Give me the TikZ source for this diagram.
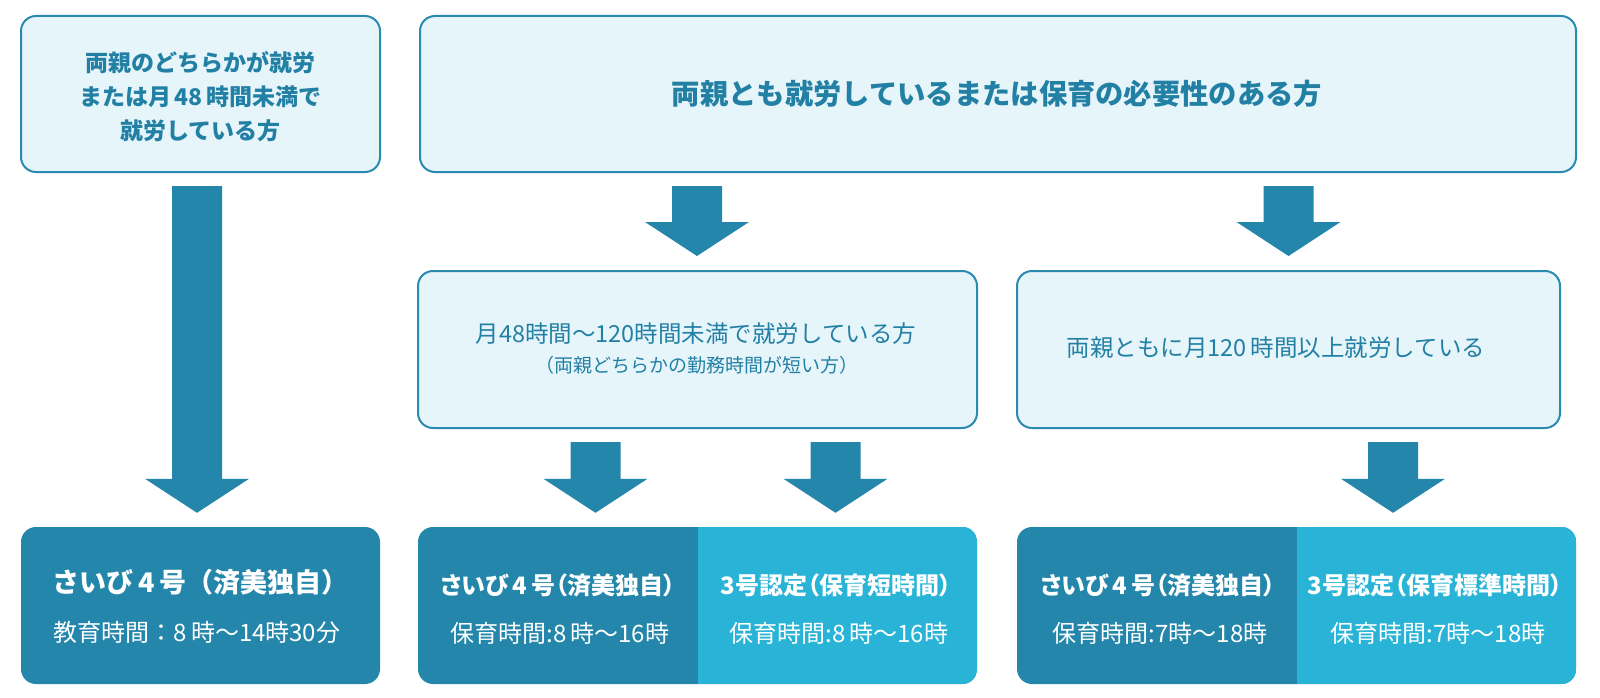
\documentclass[tikz,border=0pt]{standalone}
\usepackage{fontspec}
\setmainfont{Noto Sans CJK JP}
\newfontfamily\jpp[RawFeature=+palt]{Noto Sans CJK JP}
\usetikzlibrary{calc}
\definecolor{dk}{RGB}{35,134,170}
\definecolor{lt}{RGB}{41,180,215}
\definecolor{pale}{RGB}{230,245,250}
\definecolor{bd}{RGB}{43,138,176}
\definecolor{tx}{RGB}{35,128,165}
\newcommand\barrow[3]{%
  \fill[dk] let \p1=(#1.south), \p2=(#2.north) in
    (#3-25pt,\y1-13pt) -- (#3+25pt,\y1-13pt) -- (#3+25pt,\y2+48pt)
    -- (#3+52pt,\y2+48pt) -- (#3pt,\y2+14pt) -- (#3-52pt,\y2+48pt)
    -- (#3-25pt,\y2+48pt) -- cycle;}
\begin{document}
\begin{tikzpicture}[x=1pt,y=-1pt,
  box/.style={draw=bd, line width=2pt, fill=pale, rounded corners=15pt, inner sep=0pt},
  bot/.style={fill=dk, rounded corners=15pt, inner sep=0pt},
  ttl/.style={text=tx, align=center, font=\fontsize{23}{34}\selectfont\bfseries},
  mid/.style={text=tx, align=center, font=\fontsize{23.5}{28}\selectfont},
  sub/.style={text=tx, font=\fontsize{19}{22}\selectfont},
  wb/.style={text=white, font=\jpp\fontsize{24}{28}\selectfont\bfseries},
  wr/.style={text=white, font=\fontsize{24}{28}\selectfont},
]
\useasboundingbox (0,0) rectangle (1600,698);
% top boxes
\node[box, minimum width=359pt, minimum height=156pt] (A) at (200.5,94) {};
\node[ttl] (At) at (200.5,97) {両親のどちらかが就労\\または月\,48\,時間未満で\\就労している方};
\node[box, minimum width=1156pt, minimum height=156pt] (B) at (998,94) {};
\node[ttl, font=\fontsize{28.3}{34}\selectfont\bfseries] (Bt) at (997,94) {両親とも就労しているまたは保育の必要性のある方};
% middle boxes
\node[box, minimum width=559pt, minimum height=157pt] (C) at (697.5,349.5) {};
\node[mid] (Ct) at (696,334) {月48時間～120時間未満で就労している方};
\node[sub] (Cs) at (697,365) {（両親どちらかの勤務時間が短い方）};
\node[box, minimum width=543pt, minimum height=157pt] (D) at (1288.5,349.5) {};
\node[mid] (Dt) at (1276,348) {両親ともに月120\,時間以上就労している};
% bottom boxes
\node[bot, minimum width=359pt, minimum height=157pt] (E) at (200.5,605.5) {};
\node[bot, minimum width=559pt, minimum height=157pt] (F) at (697.5,605.5) {};
\begin{scope}
  \clip[rounded corners=15pt] (F.south west) rectangle (F.north east);
  \fill[lt] ($(F.north west)+(280.5,0)$) rectangle (F.south east);
\end{scope}
\node[bot, minimum width=559pt, minimum height=157pt] (G) at (1296.5,605.5) {};
\begin{scope}
  \clip[rounded corners=15pt] (G.south west) rectangle (G.north east);
  \fill[lt] ($(G.north west)+(280,0)$) rectangle (G.south east);
\end{scope}
\node[wb, font=\fontsize{27}{30}\selectfont\bfseries] (E1) at (200.5,582) {さいび\,4\,号（済美独自）};
\node[wr] (E2) at (197,632) {教育時間：8\,時～14時30分};
\node[wb] (F1) at (558,585) {さいび\,4\,号（済美独自）};
\node[wr] (F2) at (560,633) {保育時間:8\,時～16時};
\node[wb] (F3) at (836,585) {3号認定（保育短時間）};
\node[wr] (F4) at (839,633) {保育時間:8\,時～16時};
\node[wb] (G1) at (1158,585) {さいび\,4\,号（済美独自）};
\node[wr] (G2) at (1160,633) {保育時間:7時～18時};
\node[wb] (G3) at (1435,585) {3号認定（保育標準時間）};
\node[wr] (G4) at (1438,633) {保育時間:7時～18時};
% arrows
\barrow{A}{E}{197}
\barrow{B}{C}{697}
\barrow{B}{D}{1288.5}
\barrow{C}{F}{595.5}
\barrow{C}{F}{835.5}
\barrow{D}{G}{1393}
\end{tikzpicture}
\end{document}
